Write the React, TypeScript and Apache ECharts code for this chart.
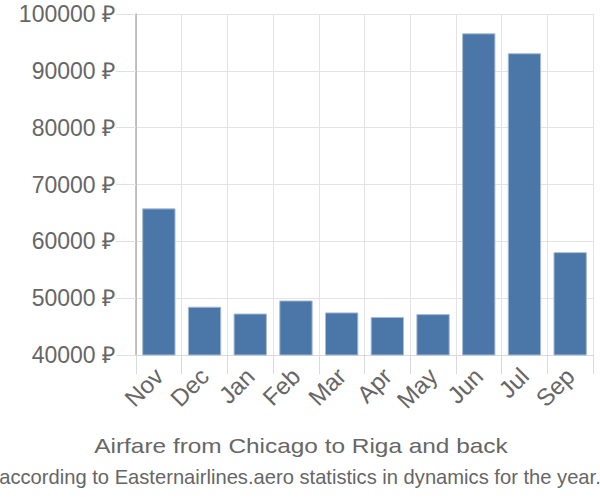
import React, { useEffect, useRef } from "react";
import * as echarts from "echarts";

const categories = ["Nov", "Dec", "Jan", "Feb", "Mar", "Apr", "May", "Jun", "Jul", "Sep"];
const prices = [65800, 48500, 47300, 49600, 47500, 46700, 47200, 96600, 93100, 58100];
const yMin = 40000;
const yMax = 100000;
const yStep = 10000;
const titleText = "Airfare from Chicago to Riga and back";
const subtitleText = "according to Easternairlines.aero statistics in dynamics for the year.";

export default function App() {
  const ref = useRef<HTMLDivElement>(null);
  useEffect(() => {
    if (!ref.current) return;
    const chart = echarts.init(ref.current, null, { renderer: "svg" });
    chart.setOption({
      animation: false,
      grid: { left: 136, top: 14, right: 7, bottom: 145, containLabel: false },
      xAxis: {
        type: "category",
        data: categories,
        boundaryGap: true,
        axisLine: { show: true, lineStyle: { color: "#d9d9d9", width: 1 } },
        axisTick: { show: true, length: 19, alignWithLabel: false, lineStyle: { color: "#d9d9d9" } },
        splitLine: { show: true, lineStyle: { color: "#e3e3e3", width: 1 } },
        axisLabel: {
          rotate: 45,
          margin: 17,
          color: "#666",
          fontSize: 24,
          fontFamily: "Liberation Sans, Arial, sans-serif",
          interval: 0,
        },
      },
      yAxis: {
        type: "value",
        min: yMin,
        max: yMax,
        interval: yStep,
        axisLine: { show: true, lineStyle: { color: "#b0b0b0", width: 1.5 } },
        axisTick: { show: true, length: 20, lineStyle: { color: "#e0e0e0" } },
        splitLine: { show: true, lineStyle: { color: "#e3e3e3", width: 1 } },
        axisLabel: {
          margin: 21,
          color: "#666",
          fontSize: 23,
          fontFamily: "Liberation Sans, Arial, sans-serif",
          formatter: (v: number) => `${v} ₽`,
        },
      },
      series: [
        {
          type: "bar",
          data: prices,
          barCategoryGap: "27%",
          itemStyle: { color: "#4a77a8", borderColor: "#a8bdd6", borderWidth: 1 },
        },
      ],
      graphic: [
        {
          type: "text",
          x: 301,
          y: 446,
          scaleX: 1.22,
          style: {
            text: titleText,
            fill: "#666",
            fontSize: 20,
            fontFamily: "Liberation Sans, Arial, sans-serif",
            textAlign: "center",
            textVerticalAlign: "middle",
          },
        },
        {
          type: "text",
          x: 300,
          y: 476,
          scaleX: 0.96,
          style: {
            text: subtitleText,
            fill: "#666",
            fontSize: 21,
            fontFamily: "Liberation Sans, Arial, sans-serif",
            textAlign: "center",
            textVerticalAlign: "middle",
          },
        },
      ],
    });
    return () => chart.dispose();
  }, []);
  return <div ref={ref} style={{ width: 600, height: 500, position: "absolute", left: 0, top: 0 }} />;
}
